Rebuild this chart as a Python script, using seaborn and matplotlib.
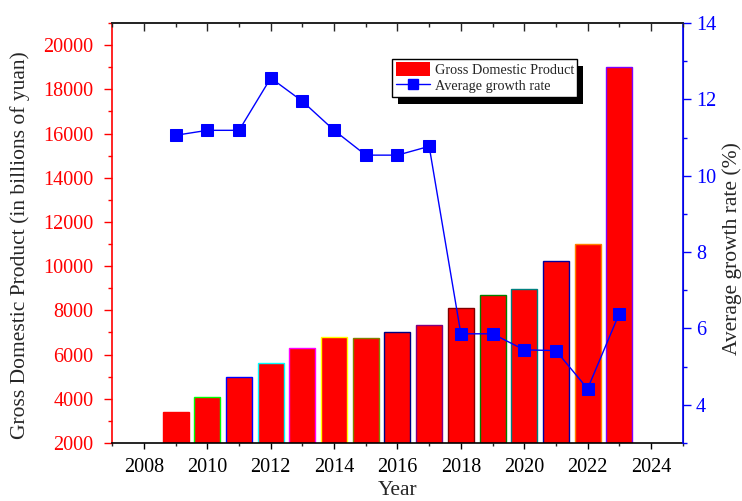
import matplotlib
matplotlib.use("Agg")
import matplotlib.pyplot as plt
from matplotlib.ticker import MultipleLocator
from matplotlib.patches import Rectangle
import seaborn as sns
import pandas as pd

#Data
years = [2009, 2010, 2011, 2012, 2013, 2014, 2015, 2016, 2017, 2018, 2019, 2020, 2021, 2022, 2023]
gdp = [3400, 4100, 5000, 5600, 6300, 6800, 6750, 7000, 7350, 8100, 8700, 8950, 10250, 11000, 19000]
growth = [11.06, 11.19, 11.19, 12.56, 11.95, 11.19, 10.54, 10.54, 10.77, 5.86, 5.86, 5.44, 5.42, 4.42, 6.39]

#Origin style edge colours, one per bar
edge_colors = ["#FF0000", "#00FF00", "#0000FF", "#00FFFF", "#FF00FF", "#FFFF00", "#808000",
               "#000080", "#800080", "#800000", "#008000", "#008080", "#0000A0", "#FF8000", "#8000FF"]

df = pd.DataFrame({"year": years, "gdp": gdp, "growth": growth})

sns.set_style("ticks")
plt.rcParams["font.family"] = ["Liberation Serif", "DejaVu Serif"]

fig = plt.figure(figsize=(7.42, 5.01), dpi=100)
ax = fig.add_axes([0.1514, 0.1158, 0.7686, 0.8382])

#Bars
sns.barplot(data=df, x="year", y="gdp", native_scale=True, width=0.82, color="#FF0000",
            saturation=1, ax=ax, zorder=2)
for patch, ec in zip(ax.patches, edge_colors):
    patch.set_edgecolor(ec)
    patch.set_linewidth(1.0)

ax.set_xlim(2007, 2025)
ax.set_ylim(2000, 21000)
ax.xaxis.set_major_locator(MultipleLocator(2))
ax.xaxis.set_minor_locator(MultipleLocator(1))
ax.yaxis.set_major_locator(MultipleLocator(2000))
ax.yaxis.set_minor_locator(MultipleLocator(1000))
ax.set_xlabel("Year", fontsize=15.5, va="center")
ax.xaxis.set_label_coords(0.5, -0.112)
ax.set_ylabel("Gross Domestic Product (in billions of yuan)", fontsize=15.5, va="center")
ax.yaxis.set_label_coords(-0.162, 0.471)

ax.tick_params(axis="x", which="major", direction="out", length=4.5, width=1, labelsize=14.5,
               pad=6, colors="black", top=False)
ax.tick_params(axis="x", which="minor", direction="out", length=2.5, width=1, top=False)
ax.tick_params(axis="y", which="major", direction="out", length=5.5, width=1, labelsize=14.5,
               pad=8, color="red", labelcolor="red")
ax.tick_params(axis="y", which="minor", direction="out", length=3, width=1, color="red")

for side in ["top", "bottom"]:
    ax.spines[side].set_color("black")
    ax.spines[side].set_linewidth(1.2)
ax.spines["left"].set_color("red")
ax.spines["left"].set_linewidth(1.2)

#Growth rate line on second axis
ax2 = ax.twinx()
sns.lineplot(data=df, x="year", y="growth", marker="s", markersize=8, color="blue",
             markeredgecolor="blue", linewidth=1, ax=ax2)
ax2.set_ylim(3, 14)
ax2.yaxis.set_major_locator(MultipleLocator(2))
ax2.yaxis.set_minor_locator(MultipleLocator(1))
ax2.set_ylabel("Average growth rate (%)", fontsize=15.5, va="center")
ax2.yaxis.set_label_coords(1.087, 0.462)
ax2.tick_params(axis="y", which="major", direction="out", length=5.5, width=1, labelsize=14.5,
                pad=4, color="blue", labelcolor="blue")
ax2.tick_params(axis="y", which="minor", direction="out", length=3, width=1, color="blue")
ax2.spines["right"].set_color("blue")
ax2.spines["right"].set_linewidth(1.2)
for side in ["left", "top", "bottom"]:
    ax2.spines[side].set_visible(False)

#Top ticks point inward like Origin
ax3 = ax2.twiny()
ax3.set_xlim(2007, 2025)
ax3.xaxis.set_major_locator(MultipleLocator(2))
ax3.xaxis.set_minor_locator(MultipleLocator(1))
ax3.tick_params(axis="x", which="major", direction="in", length=6, width=1, labeltop=False,
                top=True, bottom=False, labelbottom=False)
ax3.tick_params(axis="x", which="minor", direction="in", length=3, width=1, top=True, bottom=False)
for side in ["left", "right", "bottom"]:
    ax3.spines[side].set_visible(False)
ax3.spines["top"].set_linewidth(1.2)

#Legend with solid black shadow
bar_handle = Rectangle((0, 0), 1, 1, facecolor="#FF0000", edgecolor="none")
line_handle = plt.Line2D([], [], color="blue", marker="s", markersize=7, linewidth=1)
if ax2.get_legend() is not None:
    ax2.get_legend().remove()
leg = ax3.legend([bar_handle, line_handle], ["Gross Domestic Product", "Average growth rate"],
                 loc="upper left", bbox_to_anchor=(0.491, 0.915), borderaxespad=0, fontsize=10.3,
                 frameon=True, fancybox=False, edgecolor="black", framealpha=1, borderpad=0.25,
                 handlelength=2.4, handleheight=1.1, handletextpad=0.3, labelspacing=0.1)
leg.get_frame().set_linewidth(1)

fig.canvas.draw()
bb = leg.get_window_extent()
shadow = Rectangle((bb.x0 + 6, bb.y0 - 7), bb.width, bb.height, facecolor="black",
                   edgecolor="none", transform=None, zorder=leg.get_zorder() - 0.5)
ax3.add_artist(shadow)

fig.savefig("out.png", dpi=100)
